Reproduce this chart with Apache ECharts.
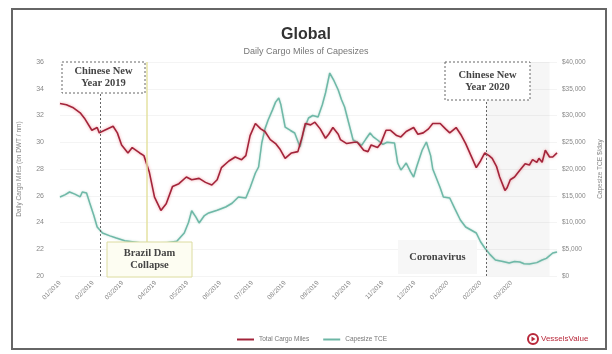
<!DOCTYPE html>
<html>
<head>
<meta charset="utf-8">
<script src="https://cdn.jsdelivr.net/npm/echarts@6/dist/echarts.min.js"></script>
<style>html,body{margin:0;padding:0;background:#fff}#c{width:612px;height:354px}</style>
</head>
<body>
<div id="c"></div>
<script>
var tickLabels = ['01/2019','02/2019','03/2019','04/2019','05/2019','06/2019','07/2019','08/2019','09/2019','10/2019','11/2019','12/2019','01/2020','02/2020','03/2020'];
var leftTicks = [20, 36, 2];
var rightTicks = [0, 40000, 5000];

var cargoMiles = [
['2019-01-01',32.9],['2019-01-07',32.8],['2019-01-13',32.6],['2019-01-20',32.2],['2019-01-24',31.8],['2019-01-31',30.9],
['2019-02-05',31.1],['2019-02-07',30.7],['2019-02-12',30.9],['2019-02-20',31.2],['2019-02-24',30.7],['2019-02-28',29.8],
['2019-03-06',29.2],['2019-03-10',29.6],['2019-03-17',29.2],['2019-03-21',29.0],['2019-03-26',27.8],['2019-03-31',25.9],
['2019-04-06',24.9],['2019-04-11',25.4],['2019-04-17',26.7],['2019-04-23',26.9],['2019-04-30',27.4],['2019-05-05',27.2],
['2019-05-12',27.3],['2019-05-18',27.0],['2019-05-24',26.8],['2019-05-29',27.2],['2019-06-02',28.1],['2019-06-09',28.6],
['2019-06-15',28.9],['2019-06-21',28.7],['2019-06-25',29.0],['2019-06-29',30.5],['2019-07-04',31.4],['2019-07-09',31.0],
['2019-07-13',30.8],['2019-07-18',30.2],['2019-07-23',29.9],['2019-07-27',29.5],['2019-08-01',28.8],['2019-08-07',29.2],
['2019-08-13',29.3],['2019-08-17',30.4],['2019-08-20',31.4],['2019-08-25',31.3],['2019-08-29',31.5],['2019-09-03',31.0],
['2019-09-08',30.3],['2019-09-11',30.6],['2019-09-15',31.1],['2019-09-20',30.6],['2019-09-22',30.2],['2019-09-28',29.9],
['2019-10-05',30.0],['2019-10-08',30.0],['2019-10-14',29.4],['2019-10-18',29.3],['2019-10-21',29.8],['2019-10-27',29.6],
['2019-10-30',29.9],['2019-11-04',30.9],['2019-11-08',30.9],['2019-11-14',30.5],['2019-11-18',30.4],['2019-11-23',30.8],
['2019-11-30',31.1],['2019-12-04',30.6],['2019-12-09',30.7],['2019-12-14',31.0],['2019-12-18',31.4],['2019-12-25',31.4],
['2019-12-30',31.0],['2020-01-03',30.7],['2020-01-09',31.1],['2020-01-14',30.5],['2020-01-18',29.9],['2020-01-23',29.0],
['2020-01-28',28.1],['2020-02-01',28.6],['2020-02-05',29.2],['2020-02-09',29.0],['2020-02-12',28.8],['2020-02-16',28.2],
['2020-02-19',27.4],['2020-02-24',26.4],['2020-02-26',26.6],['2020-02-29',27.2],['2020-03-04',27.4],['2020-03-09',27.9],
['2020-03-14',28.4],['2020-03-18',28.3],['2020-03-21',28.7],['2020-03-25',28.5],['2020-03-27',28.8],['2020-03-30',28.5],
['2020-04-02',29.4],['2020-04-06',28.9],['2020-04-09',28.9],['2020-04-13',29.2]
];

var capesizeTCE = [
['2019-01-01',14770],['2019-01-06',15200],['2019-01-10',15700],['2019-01-15',15300],['2019-01-20',14800],['2019-01-22',15700],
['2019-01-26',15500],['2019-01-29',13640],['2019-02-02',11200],['2019-02-05',9160],['2019-02-10',8040],['2019-02-17',7500],
['2019-02-23',7100],['2019-03-03',6600],['2019-03-17',6200],['2019-04-04',6000],['2019-04-21',6500],['2019-04-28',8040],
['2019-05-02',10000],['2019-05-05',12200],['2019-05-09',11000],['2019-05-12',9910],['2019-05-17',11300],['2019-05-21',11780],
['2019-05-29',12300],['2019-06-06',12900],['2019-06-12',13600],['2019-06-18',14770],['2019-06-25',14580],['2019-06-29',16500],
['2019-07-04',19250],['2019-07-07',20370],['2019-07-10',24860],['2019-07-13',27500],['2019-07-16',29160],['2019-07-20',31000],
['2019-07-23',32500],['2019-07-26',33270],['2019-07-28',32000],['2019-08-01',27850],['2019-08-06',27200],['2019-08-10',26730],
['2019-08-15',24100],['2019-08-19',27500],['2019-08-23',29530],['2019-08-27',30000],['2019-09-01',29720],['2019-09-05',32000],
['2019-09-08',34200],['2019-09-12',37940],['2019-09-16',36500],['2019-09-20',34770],['2019-09-23',33000],['2019-09-26',31590],
['2019-09-30',28500],['2019-10-04',25420],['2019-10-08',25000],['2019-10-12',24400],['2019-10-16',25600],['2019-10-20',26730],
['2019-10-23',26000],['2019-10-27',25420],['2019-11-01',24600],['2019-11-05',25000],['2019-11-12',24860],['2019-11-15',21120],
['2019-11-18',19810],['2019-11-20',20300],['2019-11-23',21120],['2019-11-27',19500],['2019-11-30',18500],['2019-12-03',20500],
['2019-12-08',23500],['2019-12-12',25050],['2019-12-16',22500],['2019-12-18',20000],['2019-12-21',18500],['2019-12-25',16500],
['2019-12-28',14770],['2020-01-03',14580],['2020-01-08',12500],['2020-01-13',10470],['2020-01-18',9160],['2020-01-23',8600],
['2020-01-28',8040],['2020-02-01',6400],['2020-02-05',5230],['2020-02-10',4000],['2020-02-15',2990],['2020-02-22',2700],
['2020-02-28',2430],['2020-03-04',2700],['2020-03-09',2620],['2020-03-13',2300],['2020-03-18',2240],['2020-03-25',2500],
['2020-03-30',2990],['2020-04-03',3300],['2020-04-09',4300],['2020-04-13',4500]
];

var eventDates = { cny2019: '2019-02-08', brazilDam: '2019-03-24', cny2020: '2020-02-06', shadeEnd: '2020-04-06' };
var axisRange = ['2019-01-01', '2020-04-13'];

function t(s) { return echarts.number.parseDate(s).getTime(); }
function tickToTime(lbl) { var p = lbl.split('/'); return t(p[1] + '-' + p[0] + '-01'); }
var tickTimes = tickLabels.map(tickToTime);
function fmtTick(v) {
  var i = tickTimes.indexOf(v);
  return i >= 0 ? tickLabels[i] : '';
}
function toXY(arr) { return arr.map(function (p) { return [t(p[0]), p[1]]; }); }

var chart = echarts.init(document.getElementById('c'), null, {renderer: 'canvas'});
var serif = '"Liberation Serif", "DejaVu Serif", serif';
var sans = '"Liberation Sans", Arial, sans-serif';

function noteBox(x, y, w, h, lines, fill, stroke, dash) {
  return {
    type: 'group', z: 100,
    children: [
      {type: 'rect', z: 100, shape: {x: x, y: y, width: w, height: h},
       style: {fill: fill, stroke: stroke || 'transparent', lineWidth: stroke ? 1 : 0, lineDash: dash || null}},
      {type: 'text', z: 101, x: x + w / 2, y: y + h / 2,
       style: {text: lines, align: 'center', verticalAlign: 'middle', fill: '#444',
               font: 'bold 10.5px ' + serif, lineHeight: 12}}
    ]
  };
}

chart.setOption({
  animation: false,
  backgroundColor: '#fff',
  title: {
    text: 'Global',
    subtext: 'Daily Cargo Miles of Capesizes',
    left: 'center', top: 22, itemGap: 4,
    textStyle: {fontFamily: sans, fontSize: 16, fontWeight: 'bold', color: '#333'},
    subtextStyle: {fontFamily: sans, fontSize: 9, color: '#777'}
  },
  grid: {left: 60, right: 54, top: 62, bottom: 78},
  legend: {
    left: 232, top: 331, itemWidth: 17, itemHeight: 2, itemGap: 14, icon: 'rect',
    textStyle: {fontFamily: sans, fontSize: 6.5, color: '#777'},
    data: ['Total Cargo Miles', 'Capesize TCE']
  },
  xAxis: {
    type: 'value',
    min: t(axisRange[0]), max: t(axisRange[1]),
    axisLine: {show: false},
    axisTick: {show: false},
    splitLine: {show: false},
    axisLabel: {customValues: tickTimes, formatter: fmtTick, rotate: 45, fontSize: 6.5,
                color: '#888', fontFamily: sans, margin: 6}
  },
  yAxis: [{
    type: 'value', min: leftTicks[0], max: leftTicks[1], interval: leftTicks[2],
    name: 'Daily Cargo Miles (bn DWT / nm)', nameLocation: 'middle', nameGap: 37, nameRotate: 90,
    nameTextStyle: {fontFamily: sans, fontSize: 6.5, color: '#888'},
    axisLine: {show: false}, axisTick: {show: false},
    axisLabel: {fontSize: 7, color: '#888', fontFamily: sans, margin: 16},
    splitLine: {lineStyle: {color: '#f4f4f4'}}
  }, {
    type: 'value', min: rightTicks[0], max: rightTicks[1], interval: rightTicks[2],
    name: 'Capesize TCE $/day', nameLocation: 'middle', nameGap: 40, nameRotate: 90,
    nameTextStyle: {fontFamily: sans, fontSize: 6.5, color: '#888'},
    axisLine: {show: false}, axisTick: {show: false},
    axisLabel: {fontSize: 6.5, color: '#888', fontFamily: sans, margin: 5,
                formatter: function (v) { return '$' + v.toLocaleString('en-US'); }},
    splitLine: {show: false}
  }],
  series: [{
    name: 'Capesize TCE', type: 'line', yAxisIndex: 1, data: toXY(capesizeTCE),
    showSymbol: false, z: 3, color: '#6db6a5',
    lineStyle: {width: 1.5, color: '#6fb8a7', shadowColor: 'rgba(110,185,165,0.5)', shadowBlur: 2},
    markArea: {silent: true, itemStyle: {color: 'rgba(0,0,0,0.035)'},
      data: [[{xAxis: t(eventDates.cny2020)}, {xAxis: t(eventDates.shadeEnd)}]]},
    markLine: {silent: true, symbol: 'none', label: {show: false},
      data: [
        {xAxis: t(eventDates.brazilDam), lineStyle: {color: '#e4e2a2', width: 1.5, type: 'solid'}},
        {xAxis: t(eventDates.cny2019), lineStyle: {color: '#666', width: 1, type: [2, 2]}},
        {xAxis: t(eventDates.cny2020), lineStyle: {color: '#666', width: 1, type: [2, 2]}}
      ]}
  }, {
    name: 'Total Cargo Miles', type: 'line', yAxisIndex: 0, data: toXY(cargoMiles),
    showSymbol: false, z: 4, color: '#a3243a',
    lineStyle: {width: 1.6, color: '#a3243a', shadowColor: 'rgba(230,90,100,0.6)', shadowBlur: 3}
  }],
  graphic: [
    {type: 'rect', z: 100, shape: {x: 12, y: 9, width: 594, height: 340},
     style: {fill: 'transparent', stroke: '#666', lineWidth: 2}},
    noteBox(62, 62, 83, 31, 'Chinese New\nYear 2019', '#fff', '#666', [2, 2]),
    noteBox(107, 242, 85, 35, 'Brazil Dam\nCollapse', '#fdfdf2', '#dcdca0', null),
    noteBox(445, 62, 85, 38, 'Chinese New\nYear 2020', '#fff', '#666', [2, 2]),
    noteBox(398, 240, 79, 34, 'Coronavirus', '#f7f7f7', null, null),
    {type: 'group', z: 100, children: [
      {type: 'circle', z: 100, shape: {cx: 533, cy: 339, r: 5}, style: {fill: '#fff', stroke: '#b8283a', lineWidth: 2}},
      {type: 'polygon', z: 101, shape: {points: [[531.5, 336.5], [531.5, 341.5], [535.5, 339]]}, style: {fill: '#b8283a'}},
      {type: 'text', z: 101, x: 541, y: 339, style: {text: 'VesselsValue', fill: '#b8283a', font: '8px ' + sans, verticalAlign: 'middle'}}
    ]}
  ]
});
</script>
</body>
</html>
